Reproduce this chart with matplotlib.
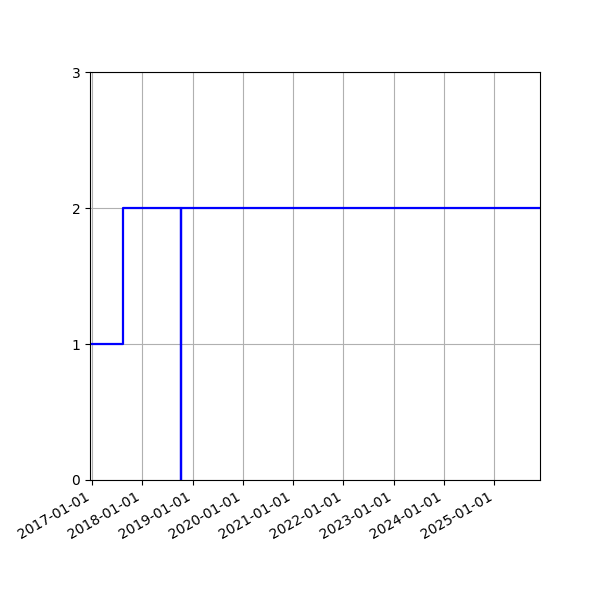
import matplotlib
matplotlib.use("Agg")
import matplotlib.pyplot as plt
import matplotlib.dates as mdates
import numpy as np

dates = np.array(["2016-12-17", "2017-08-16", "2018-10-10", "2018-10-11", "2025-11-29"], dtype="datetime64[D]")
values = [1, 2, 0, 2, 2]
yticks = [0, 1, 2, 3]

fig = plt.figure(figsize=(6, 6), dpi=100)
ax = fig.add_subplot(111)
ax.plot(dates, values, drawstyle="steps-post", color="blue", linewidth=1.6)
ax.set_xlim(dates[0], dates[-1])
ax.set_ylim(0, 3)
ax.set_yticks(yticks)
ax.xaxis.set_major_locator(mdates.YearLocator())
ax.xaxis.set_major_formatter(mdates.DateFormatter("%Y-%m-%d"))
ax.grid(True)
fig.autofmt_xdate()
fig.subplots_adjust(left=0.15, right=0.9, top=0.88, bottom=0.2)
fig.savefig("out.png", dpi=100)
